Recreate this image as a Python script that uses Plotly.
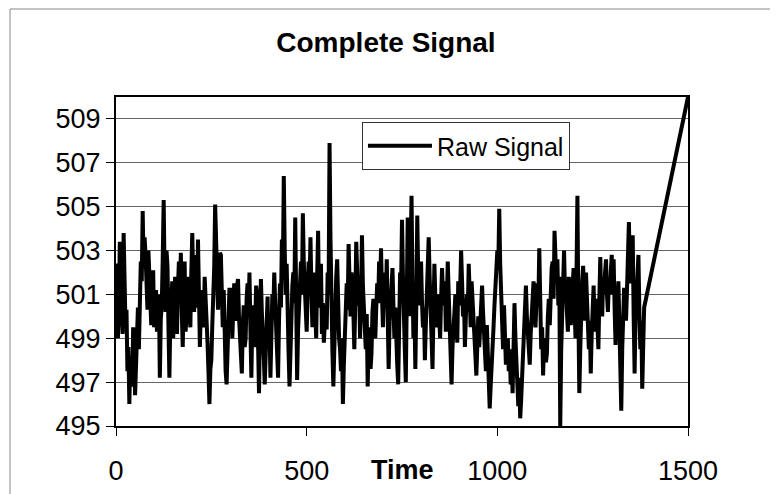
import plotly.graph_objects as go

# ---- data ----
# samples on the 5-unit grid (t = 0, 5, ..., 1385)
raw_signal_main = [
    # 0 - 95
    501.5, 499.0, 503.4, 500.0, 503.8, 499.5, 497.5, 496.0, 497.0, 499.5,
    496.4, 499.3, 498.5, 502.5, 504.8, 503.6, 501.0, 503.0, 500.5, 501.5,
    # 100 - 195
    499.5, 501.2, 499.8, 497.2, 500.5, 505.3, 500.2, 502.3, 497.2, 500.8,
    499.0, 501.8, 499.2, 502.5, 502.9, 498.6, 502.5, 500.0, 501.5, 499.5,
    # 200 - 295
    503.8, 500.2, 502.0, 503.5, 498.6, 501.2, 499.5, 501.0, 498.8, 496.0,
    498.0, 500.5, 505.1, 502.0, 501.5, 502.8, 499.5, 498.5, 496.9, 499.5,
    # 300 - 395
    500.5, 499.0, 501.5, 499.8, 501.7, 499.0, 497.4, 500.5, 499.0, 501.5,
    502.0, 497.2, 500.5, 499.5, 501.0, 496.5, 501.7, 499.5, 496.9, 499.8,
    # 400 - 495
    498.5, 497.2, 501.0, 502.0, 499.0, 497.2, 501.5, 503.5, 506.4, 501.0,
    499.5, 496.8, 500.0, 502.0, 504.5, 497.1, 500.5, 502.5, 504.7, 501.5,
    # 500 - 595
    499.3, 502.5, 503.6, 499.5, 501.5, 499.0, 503.9, 501.5, 499.2, 498.8,
    500.5, 502.0, 507.9, 500.0, 496.8, 500.5, 502.6, 499.0, 497.5, 496.0,
    # 600 - 695
    499.5, 501.5, 503.3, 500.0, 501.5, 498.5, 503.4, 500.5, 499.0, 503.7,
    500.0, 498.5, 496.8, 499.5, 498.3, 500.8, 499.0, 501.5, 502.5, 503.1,
    # 700 - 795
    499.5, 502.0, 502.6, 497.6, 500.5, 502.2, 499.0, 498.5, 496.9, 502.0,
    504.4, 499.0, 497.0, 504.5, 500.0, 505.5, 499.0, 497.6, 504.6, 500.5,
    # 800 - 895
    502.5, 499.5, 498.0, 500.8, 503.6, 500.0, 497.6, 502.4, 499.5, 501.0,
    499.0, 502.2, 500.5, 499.3, 502.5, 499.5, 496.9, 499.8, 501.0, 498.8,
    # 900 - 995
    500.5, 503.0, 500.0, 498.6, 501.0, 502.4, 499.5, 500.5, 499.0, 497.3,
    500.0, 499.5, 501.4, 499.0, 497.5, 498.2, 495.8, 497.5, 499.5, 501.5,
    # 1000 - 1095
    503.0, 504.9, 501.0, 498.5, 499.3, 498.2, 497.5, 496.9, 496.5, 500.6,
    498.0, 495.9, 495.35, 497.5, 499.0, 501.4, 499.0, 497.8, 500.0, 501.6,
    # 1100 - 1195
    499.5, 501.5, 503.1, 498.5, 497.3, 499.0, 498.3, 500.8, 501.5, 502.5,
    503.9, 501.5, 500.5, 495.0, 500.5, 503.0, 501.5, 499.3, 501.2, 500.0,
    # 1200 - 1295
    502.2, 499.0, 505.5, 496.5, 500.5, 502.3, 499.8, 501.0, 498.5, 497.4,
    500.5, 499.3, 500.8, 498.5, 502.7, 500.0, 501.0, 502.6, 500.2, 501.0,
    # 1300 - 1385
    502.8, 502.6, 498.7, 500.5, 499.5, 495.7, 499.8, 500.5, 501.2, 504.3,
    501.5, 503.7, 497.4, 501.0, 502.8, 498.5, 496.7, 500.4,
]

raw_signal_mid = [
    502.4, 500.2, 501.8, 499.2, 501.5, 500.3, 498.6, 498.2, 496.8, 498.9,
    497.6, 500.4, 500.9, 501.6, 502.2, 502.8, 500.3, 501.9, 499.6, 502.1,
    500.6, 499.3, 501.0, 499.9, 502.6, 501.8, 503.0, 499.6, 499.8, 501.6,
    500.4, 500.1, 501.4, 500.8, 500.2, 500.9, 499.3, 501.8, 500.4, 502.0,
    501.6, 502.8, 500.4, 500.9, 500.5, 499.8, 501.8, 499.4, 497.5, 497.6,
    499.6, 502.2, 503.0, 500.3, 502.9, 500.7, 501.2, 497.5, 498.6, 501.3,
    501.3, 500.6, 500.2, 501.4, 500.0, 498.2, 499.6, 498.6, 500.8, 500.3,
    499.4, 499.9, 498.6, 501.4, 498.8, 499.4, 500.2, 498.2, 498.8, 500.9,
    499.6, 499.5, 500.2, 500.6, 498.2, 499.8, 500.4, 502.0, 503.0, 502.4,
    498.4, 498.9, 501.4, 500.6, 501.0, 499.4, 501.8, 501.0, 502.4, 500.6,
    501.0, 501.4, 501.2, 502.0, 500.2, 501.8, 500.4, 502.4, 500.6, 499.9,
    499.4, 501.0, 503.5, 498.4, 499.2, 501.8, 500.4, 498.5, 499.0, 497.8,
    500.8, 500.3, 501.6, 502.0, 500.2, 500.6, 502.0, 501.8, 500.8, 501.4,
    499.2, 500.1, 498.9, 497.6, 500.2, 499.6, 500.4, 500.6, 501.4, 501.0,
    501.0, 500.4, 500.0, 499.8, 501.6, 500.5, 500.4, 497.8, 499.6, 501.3,
    501.8, 498.4, 500.6, 502.2, 502.8, 501.6, 500.4, 500.5, 502.0, 501.0,
    500.6, 500.4, 499.6, 502.0, 501.8, 498.5, 500.2, 500.8, 500.4, 500.0,
    500.8, 501.0, 501.6, 500.6, 501.0, 498.3, 498.6, 500.3, 499.7, 501.6,
    501.2, 501.6, 500.8, 500.0, 500.2, 501.0, 501.6, 499.6, 498.2, 499.4,
    498.6, 500.8, 500.2, 498.0, 499.6, 497.2, 496.8, 498.9, 500.5, 502.0,
    502.2, 502.4, 499.6, 500.5, 497.8, 499.0, 498.5, 497.9, 498.8, 499.0,
    496.8, 497.2, 496.2, 498.6, 500.5, 500.0, 498.2, 499.2, 501.2, 500.3,
    500.6, 500.5, 500.8, 499.5, 498.8, 497.9, 500.0, 499.6, 502.2, 500.8,
    502.3, 502.6, 501.8, 498.5, 502.0, 501.0, 500.2, 501.8, 499.6, 501.4,
    500.4, 501.8, 500.2, 498.5, 501.6, 500.6, 502.0, 500.0, 499.8, 499.2,
    501.4, 500.2, 499.6, 500.8, 500.6, 501.8, 502.0, 501.0, 501.6, 502.0,
    501.0, 500.4, 500.8, 501.6, 498.0, 498.5, 501.3, 499.8, 502.6, 502.2,
    502.6, 500.0, 500.0, 501.6, 500.2, 499.8, 498.6,
]

time_main = list(range(0, 1390, 5))
end_time = [1500]
end_value = [510.0]

assert len(time_main) == len(raw_signal_main)
assert len(raw_signal_mid) == len(raw_signal_main) - 1

time = []
raw_signal = []
for i, v in enumerate(raw_signal_main):
    time.append(time_main[i])
    raw_signal.append(v)
    if i < len(raw_signal_mid):
        time.append(time_main[i] + 2.5)
        raw_signal.append(raw_signal_mid[i])
time += end_time
raw_signal += end_value

y_ticks = [495, 497, 499, 501, 503, 505, 507, 509]
x_ticks = [0, 500, 1000, 1500]

FONT = "Liberation Sans, Arial, sans-serif"

fig = go.Figure()
fig.add_trace(go.Scatter(
    x=time, y=raw_signal, mode="lines", name="Raw Signal",
    line=dict(color="black", width=4),
))

fig.update_layout(
    width=770, height=486, autosize=False,
    margin=dict(l=108, r=90, t=89, b=68, autoexpand=False),
    paper_bgcolor="white", plot_bgcolor="white",
    font=dict(family=FONT, size=26, color="black"),
    title=dict(text="<b>Complete Signal</b>", x=0.472, xanchor="center",
               xref="paper", y=0.930, yanchor="middle",
               font=dict(family=FONT, size=28, color="black")),
    showlegend=True,
    legend=dict(x=0.43, y=0.924, xanchor="left", yanchor="top",
                bgcolor="white", bordercolor="#333", borderwidth=1,
                font=dict(family=FONT, size=25, color="black"),
                itemwidth=64, tracegroupgap=0),
)

fig.update_xaxes(
    range=[0, 1500], tickvals=x_ticks, ticktext=[str(v) for v in x_ticks],
    showgrid=False, zeroline=False, automargin=False,
    showline=True, linecolor="black", linewidth=2, mirror=True,
    ticks="outside", ticklen=8, tickcolor="black", tickwidth=1,
    ticklabelstandoff=12,
    tickfont=dict(family=FONT, size=27, color="black"),
)
fig.update_yaxes(
    range=[495, 510], tickvals=y_ticks, ticktext=[str(v) for v in y_ticks],
    showgrid=True, gridcolor="#666", gridwidth=1, zeroline=False,
    automargin=False,
    showline=True, linecolor="black", linewidth=2, mirror=True,
    ticks="outside", ticklen=8, tickcolor="black", tickwidth=1,
    tickfont=dict(family=FONT, size=27, color="black"),
)

# x-axis title placed inline with the tick labels
fig.add_annotation(
    text="<b>Time</b>", x=750, xref="x", y=-0.134, yref="paper",
    xanchor="center", yanchor="middle", showarrow=False,
    font=dict(family=FONT, size=27, color="black"),
)

# thin outer chart border
fig.add_shape(type="rect", xref="paper", yref="paper",
              x0=-0.1853, x1=1.178, y0=-0.255, y1=1.2675,
              line=dict(color="#888", width=1), fillcolor="rgba(0,0,0,0)",
              layer="below")

fig.write_html("out.html")
